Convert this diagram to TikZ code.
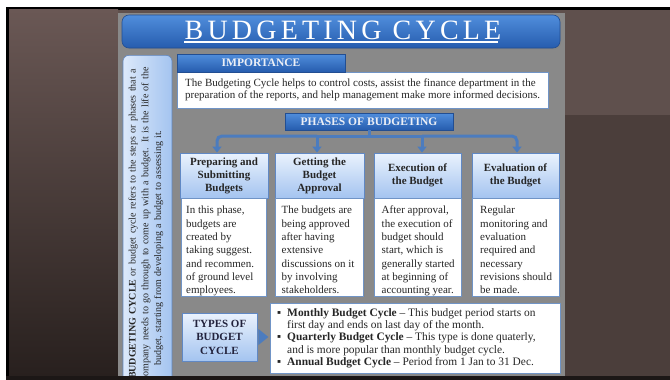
\documentclass[tikz,border=0pt]{standalone}
\usepackage{fontspec}
\setmainfont{Liberation Serif}
\usetikzlibrary{shadows,arrows.meta}
\definecolor{bgtop}{RGB}{106,88,85}
\definecolor{bgbot}{RGB}{40,32,30}
\definecolor{bgrtop}{RGB}{95,80,77}
\definecolor{bgrbot}{RGB}{75,62,59}
\definecolor{panel}{RGB}{137,137,137}
\definecolor{bluetop}{RGB}{80,142,220}
\definecolor{bluebot}{RGB}{38,92,174}
\definecolor{blueedge}{RGB}{34,78,146}
\definecolor{lighttop}{RGB}{234,242,253}
\definecolor{lightbot}{RGB}{164,196,240}
\definecolor{lightedge}{RGB}{96,136,196}
\definecolor{bodyedge}{RGB}{112,148,198}
\definecolor{conn}{RGB}{76,124,190}
\definecolor{ink}{RGB}{38,38,38}
\definecolor{headink}{RGB}{236,239,246}
\definecolor{framedark}{RGB}{28,23,22}
\begin{document}
\begin{tikzpicture}[x=1pt,y=-1pt,
  bluebar/.style={draw=blueedge, line width=0.6pt, top color=bluetop, bottom color=bluebot, inner sep=0pt},
  lightbox/.style={draw=lightedge, line width=0.8pt, top color=lighttop, bottom color=lightbot, inner sep=0pt},
  whitebox/.style={draw=bodyedge, line width=1pt, fill=white, inner sep=0pt},
  shad/.style={drop shadow={opacity=0.35, shadow xshift=1.2pt, shadow yshift=-1.2pt}},
  conline/.style={draw=conn, line width=3pt},
  arr/.style={conline, -{Triangle[width=9pt,length=6pt]}},
  headtxt/.style={font=\bfseries\fontsize{11.5}{12}\selectfont, text=headink},
  phhead/.style={lightbox, shad, minimum height=45pt, align=center, font=\bfseries\fontsize{11}{13}\selectfont, text=ink},
  phbody/.style={whitebox, shad, minimum height=98pt},
  bodytxt/.style={anchor=north west, inner sep=0pt, align=left, font=\fontsize{11}{13.3}\selectfont, text=ink}
]
\useasboundingbox (0,0) rectangle (670,380);
% background
\fill[white] (0,0) rectangle (670,380);
\fill[black] (6,7) rectangle (670,380);
\shade[top color=bgtop, bottom color=bgbot] (9,9.5) rectangle (118,376);
\fill[bgrtop] (118,9.5) rectangle (670,115);
\fill[bgrbot] (565,115) rectangle (670,376);
\fill[panel] (118,13) rectangle (565,376);

% title
\node[bluebar, rounded corners=7pt, minimum width=438pt, minimum height=33pt, shad] (title) at (341,31.5) {};
\node[anchor=base, inner sep=0pt, text=white, font=\fontsize{28}{28}\selectfont\addfontfeatures{LetterSpace=15}] (titletxt) at (343,39.5) {BUDGETING CYCLE};
\draw[white, line width=1.4pt] ([yshift=-2.6pt]titletxt.base west) -- ([yshift=-2.6pt,xshift=-4pt]titletxt.base east);

% left vertical box
\node[inner sep=0pt, minimum width=49pt, minimum height=400pt, rounded corners=6pt, left color=lighttop!80!lightbot, right color=lightbot, draw=lightedge, line width=0.6pt, anchor=north] (leftbox) at (147.5,55) {};
\node[rotate=90, inner sep=0pt, text width=360pt, align=center, font=\fontsize{10}{12.8}\selectfont, text=ink] (lefttxt) at (146,224)
 {\textbf{BUDGETING CYCLE} or budget cycle refers to the steps or phases that a\\
  company needs to go through to come up with a budget. It is the life of the\\
  budget, starting from developing a budget to assessing it.\hspace*{48pt}};

% importance
\node[whitebox, shad, minimum width=371pt, minimum height=36pt] (impb) at (362.5,90) {};
\node[bluebar, shad, minimum width=168pt, minimum height=18pt, headtxt] (imph) at (261,63) {IMPORTANCE};
\node[bodytxt, font=\fontsize{11}{12.4}\selectfont] (imptxt) at (185,78.5)
 {The Budgeting Cycle helps to control costs, assist the finance department in the\\
  preparation of the reports, and help management make more informed decisions.};

% phases
\node[bluebar, shad, minimum width=168pt, minimum height=17pt, headtxt] (phases) at (369,121.5) {PHASES OF BUDGETING};

\node[phhead, minimum width=88pt] (h1) at (224,175.5) {Preparing and\\Submitting\\Budgets};
\node[phhead, minimum width=89pt] (h2) at (319.5,175.5) {Getting the\\Budget\\Approval};
\node[phhead, minimum width=87pt] (h3) at (417.5,175.5) {Execution of\\the Budget};
\node[phhead, minimum width=87pt] (h4) at (515.5,175.5) {Evaluation of\\the Budget};

\node[phbody, minimum width=85pt] (b1) at (224,247) {};
\node[phbody, minimum width=88pt] (b2) at (319.5,247) {};
\node[phbody, minimum width=87pt] (b3) at (417.5,247) {};
\node[phbody, minimum width=87pt] (b4) at (516,247) {};

\node[bodytxt] (bt1) at (186,206) {In this phase,\\budgets are\\created by\\taking suggest.\\and recommen.\\of ground level\\employees.};
\node[bodytxt] (bt2) at (281.5,206) {The budgets are\\being approved\\after having\\extensive\\discussions on it\\by involving\\stakeholders.};
\node[bodytxt] (bt3) at (381.5,206) {After approval,\\the execution of\\budget should\\start, which is\\generally started\\at beginning of\\accounting year.};
\node[bodytxt] (bt4) at (480,206) {Regular\\monitoring and\\evaluation\\required and\\necessary\\revisions should\\be made.};

% connectors
\coordinate (t1) at (217,136);
\coordinate (t2) at (317,136);
\coordinate (t3) at (422,136);
\coordinate (t4) at (517,136);
\draw[conline] (phases.south) -- (phases.south |- t2);
\draw[conline] (t2) -- (t3);
\draw[arr, rounded corners=5pt] (t2) -| (t1 |- h1.north);
\draw[arr, rounded corners=5pt] (t3) -| (t4 |- h4.north);
\draw[arr] (t2) -- (t2 |- h2.north);
\draw[arr] (t3) -- (t3 |- h3.north);

% types
\node[lightbox, shad, minimum width=75pt, minimum height=48pt, align=center, font=\bfseries\fontsize{11}{13.5}\selectfont, text=ink!90!blue] (types) at (219.5,337) {TYPES OF\\BUDGET\\CYCLE};
\node[whitebox, shad, minimum width=290pt, minimum height=70pt] (bul) at (415,338) {};
\fill[conn] ([xshift=1pt,yshift=8pt]types.east) -- ([xshift=11pt]types.east) -- ([xshift=1pt,yshift=-8pt]types.east) -- cycle;
\node[anchor=north west, inner sep=0pt, text=ink, font=\fontsize{11.4}{12.3}\selectfont] (bultxt) at (277,307.5)
 {\begin{tabular}{@{}l@{\hspace{6pt}}l@{}}
  ▪ & \textbf{Monthly Budget Cycle} – This budget period starts on\\
   & first day and ends on last day of the month.\\
  ▪ & \textbf{Quarterly Budget Cycle} – This type is done quaterly,\\
   & and is more popular than monthly budget cycle.\\
  ▪ & \textbf{Annual Budget Cycle} – Period from 1 Jan to 31 Dec.
 \end{tabular}};

% bottom frame
\fill[framedark] (6,376) rectangle (670,380);
\end{tikzpicture}
\end{document}
